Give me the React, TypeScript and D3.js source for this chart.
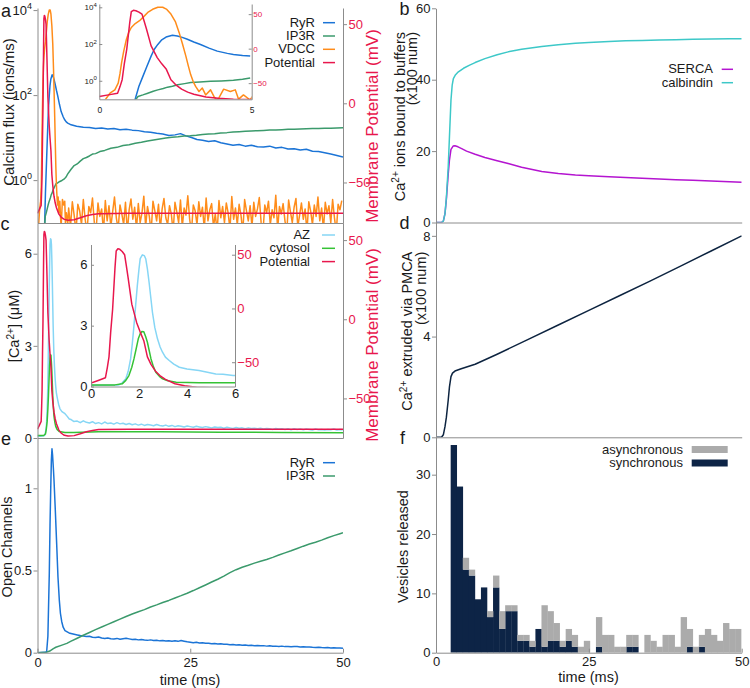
import { useEffect, useRef } from 'react'
import * as d3 from 'd3'

type Pt = [number, number]

const W = 750
const H = 688
const FONT = '"Liberation Sans", Arial, Helvetica, sans-serif'
const AXIS = '#8c8c8c'
const INK = '#1a1a1a'

const COLORS = {
  potential: '#e8174d',
  ryr: '#1b74d6',
  ip3r: '#3b9a6c',
  vdcc: '#ff8c1a',
  az: '#86d6f5',
  cytosol: '#35c235',
  serca: '#b415d0',
  calbindin: '#3dc8c8',
  pmca: '#0d2440',
  sync: '#0d2446',
  async: '#ababab'
}

// ---- panel a / c: membrane potential (mV) vs time (ms)
const potential: Pt[] = [
  [0, -69.5], [0.3, -67], [0.6, -64.5], [0.68, -55], [0.75, -45], [0.82, -22], [0.9, -1], [1.0, 38],
  [1.05, 53.5], [1.12, 55.5], [1.2, 55], [1.3, 53], [1.4, 50], [1.47, 40], [1.55, 28], [1.7, 4],
  [1.9, -13], [2.05, -22], [2.2, -30], [2.35, -45], [2.5, -52], [2.7, -58.7], [2.9, -63], [3.1, -66],
  [3.5, -70], [3.9, -72], [4.4, -73.3], [5, -73.8], [6, -73.5], [7, -72.3], [8, -71], [9, -70.2],
  [10, -69.7], [15, -69.5], [50, -69.5]
]

// ---- panel a: calcium flux (ions/ms)
const ryrFlux: Pt[] = [
  [1.16, 0.08], [1.3, 0.5], [1.43, 1.74], [1.56, 6], [1.7, 21.9], [1.8, 50], [1.92, 95], [2.05, 170],
  [2.19, 240], [2.4, 300], [2.56, 275], [2.72, 230], [2.89, 182], [3.1, 130], [3.32, 95], [3.6, 60],
  [3.87, 41], [4.2, 31], [4.4, 27], [4.7, 23.5], [4.95, 22], [5.5, 20], [6.4, 18.5], [7.5, 17.6],
  [8.5, 17.2], [9.5, 16.3], [10.5, 16.8], [11.5, 15.9], [12.5, 16.4], [13.5, 15.4], [14.5, 15.8],
  [15.5, 15.0], [16.5, 14.6], [17.5, 13.7], [18.5, 13.3], [19.5, 12.6], [20.5, 12.1], [21.5, 11.2],
  [22.5, 11.6], [23.4, 12.4], [24.3, 11.0], [25.2, 10.1], [26.1, 9.0], [27, 8.7], [28, 8.1], [29, 8.4],
  [30, 7.6], [31, 7.1], [32, 6.6], [33, 6.9], [34, 6.3], [35, 6.6], [36, 6.1], [37, 6.0], [38, 6.3],
  [39, 5.7], [40, 5.9], [41, 5.4], [42, 5.5], [43, 5.1], [44, 5.3], [45, 4.8], [46, 4.7], [47, 4.4],
  [48, 4.1], [49, 3.8], [50, 3.5]
]

const ip3rFlux: Pt[] = [
  [1.16, 0.08], [1.27, 0.14], [1.43, 0.17], [1.59, 0.21], [1.77, 0.27], [1.92, 0.32], [2.1, 0.38],
  [2.24, 0.45], [2.4, 0.5], [2.57, 0.6], [2.8, 0.7], [3.0, 0.81], [3.3, 0.86], [3.65, 0.93], [4.0, 0.98],
  [4.4, 1.07], [4.7, 1.2], [4.95, 1.4], [5.5, 1.8], [6, 2.2], [6.5, 2.4], [7, 2.8], [7.5, 3.2], [8, 3.4],
  [8.5, 3.7], [9, 4.1], [9.5, 4.2], [10.2, 4.7], [11, 5.0], [12, 5.6], [13, 5.9], [14, 6.5], [15, 6.8],
  [16, 7.4], [17, 7.8], [18, 8.3], [19, 8.8], [20, 9.3], [21, 9.8], [22, 10.2], [23, 10.5], [24, 10.9],
  [25, 11.1], [26, 11.4], [27, 11.8], [28, 12.1], [29, 12.4], [30, 12.9], [31, 13.1], [32, 13.6],
  [33, 13.8], [34, 14.1], [35, 14.4], [36, 14.6], [37, 14.8], [38, 15.1], [39, 15.2], [40, 15.4],
  [41, 15.7], [42, 15.7], [43, 15.9], [44, 16.2], [45, 16.3], [46, 16.4], [47, 16.7], [48, 16.7],
  [49, 16.9], [50, 17.1]
]

const vdccEarly: Pt[] = [
  [0, 0.05], [0.19, 0.09], [0.35, 0.21], [0.51, 0.32], [0.62, 0.74], [0.68, 2.5], [0.73, 9.3], [0.8, 40],
  [0.89, 182], [0.97, 450], [1.05, 794], [1.18, 1300], [1.32, 1860], [1.45, 3000], [1.59, 5250],
  [1.75, 7800], [1.92, 10000], [2.08, 10000], [2.2, 8000], [2.35, 4270], [2.5, 1600], [2.62, 417],
  [2.73, 100], [2.84, 22], [2.92, 6.5], [3.0, 2.1], [3.08, 0.9], [3.16, 0.49], [3.27, 0.26], [3.38, 0.4],
  [3.49, 0.17], [3.65, 0.32], [3.76, 0.14], [3.87, 0.08], [4.08, 0.35], [4.3, 0.26], [4.46, 0.32],
  [4.57, 0.1], [4.73, 0.17], [4.95, 0.09]
]
// noisy VDCC tail, sampled every 0.3 ms from 5.1 ms
const VDCC_T0 = 5.1
const VDCC_DT = 0.3
const vdccTail = [
  0.22, 0.08, 0.31, 0.15, 0.06, 0.27, 0.19, 0.09, 0.35, 0.12,
  0.06, 0.24, 0.17, 0.38, 0.1, 0.07, 0.29, 0.14, 0.21, 0.06,
  0.33, 0.11, 0.25, 0.08, 0.18, 0.4, 0.13, 0.07, 0.26, 0.16,
  0.09, 0.3, 0.06, 0.2, 0.36, 0.12, 0.23, 0.07, 0.28, 0.1,
  0.17, 0.42, 0.08, 0.24, 0.14, 0.06, 0.32, 0.19, 0.11, 0.27,
  0.07, 0.21, 0.37, 0.13, 0.09, 0.25, 0.16, 0.06, 0.3, 0.18,
  0.1, 0.34, 0.08, 0.22, 0.15, 0.43, 0.12, 0.06, 0.26, 0.19,
  0.09, 0.31, 0.14, 0.23, 0.07, 0.38, 0.11, 0.2, 0.28, 0.08,
  0.16, 0.06, 0.33, 0.13, 0.24, 0.1, 0.29, 0.17, 0.07, 0.41,
  0.12, 0.22, 0.09, 0.27, 0.15, 0.06, 0.35, 0.19, 0.11, 0.25,
  0.08, 0.3, 0.14, 0.21, 0.39, 0.1, 0.06, 0.26, 0.17, 0.32,
  0.09, 0.2, 0.13, 0.44, 0.07, 0.24, 0.16, 0.28, 0.11, 0.06,
  0.34, 0.18, 0.1, 0.23, 0.37, 0.08, 0.15, 0.29, 0.12, 0.21,
  0.06, 0.31, 0.19, 0.09, 0.26, 0.14, 0.4, 0.11, 0.22, 0.07,
  0.3, 0.16, 0.25, 0.1, 0.35, 0.13, 0.06, 0.27, 0.2, 0.33
]

// ---- panel c: [Ca2+] (uM)
const azEarly: Pt[] = [
  [0, 0.06], [0.5, 0.06], [1.0, 0.07], [1.16, 0.08], [1.3, 0.18], [1.45, 0.38], [1.55, 0.75], [1.65, 1.36],
  [1.72, 2.1], [1.79, 3.0], [1.86, 4.0], [1.93, 4.97], [2.0, 5.8], [2.05, 6.3], [2.14, 6.49], [2.22, 6.45],
  [2.28, 6.3], [2.35, 5.8], [2.42, 5.14], [2.49, 4.4], [2.56, 3.66], [2.66, 2.9], [2.77, 2.35], [2.88, 1.95],
  [2.98, 1.69], [3.1, 1.45], [3.26, 1.28], [3.45, 1.1], [3.68, 0.95], [4.0, 0.86], [4.5, 0.79], [4.8, 0.72],
  [5.2, 0.62], [5.5, 0.6], [5.92, 0.54]
]
const AZ_T0 = 6.5
const AZ_DT = 0.5
const azTail = [
  0.55, 0.5, 0.56, 0.51, 0.49, 0.53, 0.47, 0.5, 0.46, 0.52,
  0.47, 0.49, 0.45, 0.5, 0.46, 0.48, 0.44, 0.47, 0.43, 0.46,
  0.42, 0.45, 0.41, 0.44, 0.42, 0.4, 0.44, 0.41, 0.39, 0.42,
  0.38, 0.41, 0.37, 0.4, 0.38, 0.36, 0.39, 0.37, 0.35, 0.38,
  0.36, 0.34, 0.37, 0.35, 0.33, 0.36, 0.34, 0.35, 0.32, 0.35,
  0.33, 0.31, 0.34, 0.32, 0.33, 0.3, 0.33, 0.31, 0.32, 0.3,
  0.32, 0.29, 0.31, 0.3, 0.28, 0.31, 0.29, 0.3, 0.28, 0.3,
  0.27, 0.3, 0.28, 0.29, 0.27, 0.29, 0.28, 0.26, 0.29, 0.27,
  0.28, 0.26, 0.28, 0.27, 0.29, 0.26, 0.28, 0.27
]
const cytosolCa: Pt[] = [
  [0, 0.08], [1.0, 0.08], [1.3, 0.13], [1.45, 0.3], [1.58, 0.54], [1.7, 0.95], [1.79, 1.36], [1.88, 1.85],
  [1.97, 2.35], [2.05, 2.6], [2.12, 2.71], [2.2, 2.7], [2.28, 2.45], [2.35, 2.18], [2.42, 1.8], [2.5, 1.36],
  [2.6, 0.98], [2.7, 0.7], [2.85, 0.5], [2.98, 0.38], [3.2, 0.28], [3.55, 0.21], [4.5, 0.18], [5.9, 0.18],
  [10, 0.2], [20, 0.2], [30, 0.19], [40, 0.18], [50, 0.17]
]

// ---- panel e: open channels
const ryrOpenEarly: Pt[] = [
  [0, 0], [1.2, 0.002], [1.5, 0.006], [1.7, 0.1], [1.93, 0.48], [2.05, 0.78], [2.16, 0.99], [2.27, 1.17],
  [2.37, 1.24], [2.47, 1.2], [2.6, 1.12], [2.7, 1.05], [2.9, 0.88], [3.14, 0.66], [3.35, 0.46], [3.57, 0.32],
  [3.75, 0.24], [3.96, 0.19], [4.2, 0.155], [4.5, 0.134], [5.3, 0.118], [6, 0.112]
]
const RYR_T0 = 6.5
const RYR_DT = 0.5
const ryrOpenTail = [
  0.108, 0.104, 0.101, 0.098, 0.1, 0.094, 0.092, 0.095, 0.089, 0.087,
  0.09, 0.085, 0.084, 0.087, 0.082, 0.085, 0.088, 0.084, 0.08, 0.082,
  0.078, 0.08, 0.077, 0.075, 0.078, 0.074, 0.076, 0.072, 0.074, 0.071,
  0.073, 0.07, 0.072, 0.069, 0.074, 0.07, 0.066, 0.064, 0.061, 0.063,
  0.059, 0.06, 0.057, 0.058, 0.055, 0.056, 0.053, 0.054, 0.051, 0.052,
  0.049, 0.05, 0.047, 0.048, 0.046, 0.047, 0.044, 0.045, 0.043, 0.044,
  0.042, 0.043, 0.04, 0.042, 0.039, 0.04, 0.038, 0.04, 0.037, 0.038,
  0.036, 0.038, 0.037, 0.035, 0.036, 0.034, 0.035, 0.033, 0.032, 0.033,
  0.031, 0.03, 0.031, 0.029, 0.03, 0.028, 0.029, 0.027
]
const ip3rOpen: Pt[] = [
  [0, 0], [1.5, 0.003], [2, 0.01], [2.6, 0.025], [3, 0.033], [4, 0.046], [4.8, 0.057], [5.5, 0.07],
  [6.5, 0.088], [7.5, 0.106], [8.5, 0.123], [9.5, 0.14], [10.5, 0.156], [11.5, 0.172], [12.5, 0.188],
  [13.5, 0.204], [14.5, 0.22], [15.5, 0.235], [16.5, 0.249], [17.5, 0.262], [18.5, 0.278], [19.5, 0.291],
  [20.5, 0.305], [21.5, 0.318], [22.5, 0.333], [23.5, 0.347], [24.5, 0.362], [25.5, 0.378], [26.5, 0.395],
  [27.5, 0.412], [28.5, 0.43], [29.5, 0.447], [30.5, 0.466], [31.5, 0.487], [32.5, 0.505], [33.5, 0.52],
  [34.5, 0.532], [35.5, 0.545], [36.5, 0.556], [37.5, 0.567], [38.5, 0.58], [39.5, 0.594], [40.5, 0.607],
  [41.5, 0.62], [42.5, 0.634], [43.5, 0.648], [44.5, 0.661], [45.5, 0.672], [46.5, 0.685], [47.5, 0.699],
  [48.5, 0.712], [49.5, 0.724], [50, 0.73]
]

// ---- panel b: Ca2+ bound to buffers (x100)
const sercaBound: Pt[] = [
  [0, 0], [0.9, 0], [1.2, 0.4], [1.47, 2.5], [1.7, 6.5], [2.0, 13.5], [2.2, 17.5], [2.45, 20.5], [2.8, 21.4],
  [3.1, 21.5], [3.6, 21.2], [4.2, 20.7], [5, 20], [6.4, 19.1], [8, 18.2], [10, 17.3], [11.8, 16.5], [14, 15.5],
  [17.3, 14.3], [20, 13.7], [22.8, 13.3], [25, 13.1], [28.3, 12.8], [31, 12.6], [33.7, 12.4], [36.5, 12.2],
  [39.2, 12], [42, 11.8], [45, 11.6], [48, 11.4], [50, 11.3]
]
const calbindinBound: Pt[] = [
  [0, 0], [0.9, 0], [1.2, 0.4], [1.47, 2.5], [1.7, 7], [2.0, 15.6], [2.2, 24], [2.45, 34.3], [2.65, 38.5],
  [2.84, 40.3], [3.2, 41.4], [3.66, 42.2], [4.5, 43.2], [5.5, 44.1], [6.4, 44.8], [8, 45.9], [10, 47],
  [11.8, 47.8], [14, 48.5], [17.3, 49.3], [20, 49.8], [22.8, 50.2], [25, 50.4], [28.3, 50.7], [31, 50.9],
  [33.7, 51.0], [36.5, 51.1], [39.2, 51.2], [42, 51.3], [45, 51.4], [48, 51.5], [50, 51.5]
]

// ---- panel d: Ca2+ extruded via PMCA (x100)
const pmcaExtruded: Pt[] = [
  [0, 0], [0.9, 0], [1.2, 0.1], [1.47, 0.42], [1.7, 0.8], [2.0, 1.48], [2.2, 2.0], [2.45, 2.41], [2.7, 2.55],
  [3.1, 2.63], [4, 2.71], [5, 2.79], [6.4, 2.9], [10, 3.3], [15, 3.88], [20, 4.46], [25, 5.04], [30, 5.62],
  [35, 6.2], [40, 6.8], [45, 7.4], [50, 8.0]
]

// ---- panel f: vesicles released per bin
const BIN_START = 2.4
const BIN_WIDTH = 0.99
const syncCounts = [
  35, 28, 14, 13, 9, 11, 6, 11, 4, 7, 7, 2, 2, 1, 4, 1, 2, 2, 1, 2, 1, 0, 0, 0,
  1, 0, 0, 0, 0, 1, 1, 0, 0, 0, 0, 0, 0, 0, 0, 1, 0, 1, 0, 0, 0, 0, 0, 0
]
const asyncCounts = [
  0, 0, 2, 1, 0, 0, 1, 2, 3, 1, 1, 1, 1, 1, 0, 7, 5, 3, 1, 2, 2, 1, 2, 0,
  5, 3, 3, 1, 1, 2, 2, 0, 3, 2, 1, 3, 3, 1, 6, 3, 1, 2, 4, 3, 2, 5, 4, 4
]

// ticks
const fluxTicks = [1, 100, 10000]
const potentialTicks = [-50, 0, 50]
const caTicks = [0, 3, 6]
const insetCaXTicks = [0, 2, 4, 6]
const insetFluxXTicks = [0, 5]
const openTicks = [0, 0.5, 1]
const timeTicks = [0, 25, 50]
const boundTicks = [0, 20, 40, 60]
const pmcaTicks = [0, 4, 8]
const vesicleTicks = [0, 10, 20, 30]

const legendA = [['RyR', COLORS.ryr], ['IP3R', COLORS.ip3r], ['VDCC', COLORS.vdcc], ['Potential', COLORS.potential]]
const legendB = [['SERCA', COLORS.serca], ['calbindin', COLORS.calbindin]]
const legendC = [['AZ', COLORS.az], ['cytosol', COLORS.cytosol], ['Potential', COLORS.potential]]
const legendE = [['RyR', COLORS.ryr], ['IP3R', COLORS.ip3r]]
const legendF = [['asynchronous', COLORS.async], ['synchronous', COLORS.sync]]

const LEFT = { x0: 37.5, x1: 343 }
const RIGHT = { x0: 436, x1: 741.7 }

const fmt = d3.format('~g')

const withTail = (head: Pt[], tail: number[], t0: number, dt: number): Pt[] =>
  head.concat(tail.map((v, i) => [t0 + i * dt, v] as Pt))

export default function App() {
  const ref = useRef<SVGSVGElement | null>(null)

  useEffect(() => {
    if (!ref.current) return
    const svg = d3.select(ref.current)
    svg.selectAll('*').remove()
    const defs = svg.append('defs')
    let nClip = 0

    const clipRect = (x0: number, y0: number, x1: number, y1: number) => {
      const id = `clip-${nClip++}`
      defs.append('clipPath').attr('id', id)
        .append('rect').attr('x', x0).attr('y', y0).attr('width', x1 - x0).attr('height', y1 - y0)
      return `url(#${id})`
    }

    const plot = (data: Pt[], x: any, y: any, color: string, clip: string) => {
      const line = d3.line<Pt>().x((d) => x(d[0])).y((d) => y(d[1]))
      svg.append('path')
        .attr('d', line(data) as string)
        .attr('fill', 'none')
        .attr('stroke', color)
        .attr('stroke-width', 1.5)
        .attr('stroke-linejoin', 'round')
        .attr('clip-path', clip)
    }

    const styleAxis = (g: any, labelColor = INK, size = 13) => {
      g.attr('color', AXIS).attr('font-family', FONT).attr('font-size', size)
      g.selectAll('text').attr('fill', labelColor)
      g.selectAll('line, path').attr('stroke-width', 1)
    }

    const powLabels = (g: any, supSize: number, rise: number) => {
      g.selectAll('.tick text').each(function (this: SVGTextElement, d: any) {
        const t = d3.select(this)
        t.text('10')
        t.append('tspan').attr('dy', -rise).attr('font-size', supSize).text(String(Math.round(Math.log10(d))))
      })
    }

    const axis = (gen: any, tx: number, ty: number, labelColor = INK, size = 13) => {
      const g = svg.append('g').attr('transform', `translate(${tx},${ty})`).call(gen.tickFormat(fmt))
      styleAxis(g, labelColor, size)
      return g
    }

    type Seg = { t: string; sup?: boolean }
    const label = (x: number, y: number, segs: Seg[], size: number, opts: { rot?: boolean; anchor?: string; color?: string } = {}) => {
      const t = svg.append('text')
        .attr('transform', `translate(${x},${y})${opts.rot ? ' rotate(-90)' : ''}`)
        .attr('text-anchor', opts.anchor || 'middle')
        .attr('font-family', FONT)
        .attr('font-size', size)
        .attr('fill', opts.color || INK)
      const rise = size * 0.38
      let up = false
      segs.forEach((s) => {
        const span = t.append('tspan').text(s.t)
        if (s.sup) {
          span.attr('font-size', size * 0.7).attr('dy', -rise)
          up = true
        } else if (up) {
          span.attr('dy', rise)
          up = false
        }
      })
      return t
    }

    const legend = (items: string[][], xEnd: number, y0: number, step: number, sx0: number, sx1: number, box = false) => {
      items.forEach(([name, color], i) => {
        const y = y0 + i * step
        label(xEnd, y, [{ t: name }], 13, { anchor: 'end' })
        if (box) {
          svg.append('rect').attr('x', sx0).attr('y', y - 7.5).attr('width', sx1 - sx0).attr('height', 7).attr('fill', color)
        } else {
          svg.append('line').attr('x1', sx0).attr('x2', sx1).attr('y1', y - 4).attr('y2', y - 4)
            .attr('stroke', color).attr('stroke-width', 1.5)
        }
      })
    }

    const vdccFlux = withTail(vdccEarly, vdccTail, VDCC_T0, VDCC_DT)
    const azCa = withTail(azEarly, azTail, AZ_T0, AZ_DT)
    const ryrOpen = withTail(ryrOpenEarly, ryrOpenTail, RYR_T0, RYR_DT)

    // ===== panel a =====
    const xL = d3.scaleLinear().domain([0, 50]).range([LEFT.x0, LEFT.x1])
    const yFlux = d3.scaleLog().domain([0.098, 11200]).range([223, 8])
    const yPotA = d3.scaleLinear().domain([-75.6, 60.2]).range([223, 8])
    const clipA = clipRect(LEFT.x0, 8, LEFT.x1, 223)
    plot(ryrFlux, xL, yFlux, COLORS.ryr, clipA)
    plot(ip3rFlux, xL, yFlux, COLORS.ip3r, clipA)
    plot(vdccFlux, xL, yFlux, COLORS.vdcc, clipA)
    plot(potential, xL, yPotA, COLORS.potential, clipA)
    const aLeft = axis(d3.axisLeft(yFlux).tickValues(fluxTicks).tickSizeInner(4).tickSizeOuter(0).tickPadding(1.5), LEFT.x0, 0)
    powLabels(aLeft, 9, 6)
    axis(d3.axisRight(yPotA).tickValues(potentialTicks).tickSizeInner(4).tickSizeOuter(0).tickPadding(1.5), LEFT.x1, 0, COLORS.potential)
    axis(d3.axisBottom(xL).tickValues([]).tickSizeOuter(0), 0, 223)
    legend(legendA, 315, 26.7, 13.3, 323, 335)

    // inset a
    const xIa = d3.scaleLinear().domain([0, 5]).range([99.3, 251.7])
    const yIaFlux = d3.scaleLog().domain([0.098, 15100]).range([99.3, 4])
    const yIaPot = d3.scaleLinear().domain([-73.4, 64.7]).range([99.3, 4])
    const clipIa = clipRect(99.3, 4, 251.7, 99.3)
    const early = (d: Pt) => d[0] <= 5.3
    plot(ryrFlux.filter(early), xIa, yIaFlux, COLORS.ryr, clipIa)
    plot(ip3rFlux.filter(early), xIa, yIaFlux, COLORS.ip3r, clipIa)
    plot(vdccFlux.filter(early), xIa, yIaFlux, COLORS.vdcc, clipIa)
    plot(potential.filter((d) => d[0] <= 6), xIa, yIaPot, COLORS.potential, clipIa)
    const iaLeft = axis(d3.axisLeft(yIaFlux).tickValues(fluxTicks).tickSizeInner(-3).tickSizeOuter(0).tickPadding(2.5), 99.3, 0, INK, 8)
    powLabels(iaLeft, 6, 3.5)
    axis(d3.axisRight(yIaPot).tickValues(potentialTicks).tickSizeInner(-3).tickSizeOuter(0).tickPadding(1.5), 251.7, 0, COLORS.potential, 8)
    axis(d3.axisBottom(xIa).tickValues(insetFluxXTicks).tickSizeInner(0).tickSizeOuter(0).tickPadding(7.4), 0, 99.3, INK, 8.5)

    // ===== panel c =====
    const yCa = d3.scaleLinear().domain([0, 7]).range([438, 223])
    const yPotC = d3.scaleLinear().domain([-75, 60.8]).range([438, 223])
    const clipC = clipRect(LEFT.x0, 223, LEFT.x1, 438)
    plot(azCa, xL, yCa, COLORS.az, clipC)
    plot(cytosolCa, xL, yCa, COLORS.cytosol, clipC)
    plot(potential, xL, yPotC, COLORS.potential, clipC)
    axis(d3.axisLeft(yCa).tickValues(caTicks).tickSizeInner(4).tickSizeOuter(0).tickPadding(1.5), LEFT.x0, 0)
    axis(d3.axisRight(yPotC).tickValues(potentialTicks).tickSizeInner(4).tickSizeOuter(0).tickPadding(1.5), LEFT.x1, 0, COLORS.potential)
    axis(d3.axisBottom(xL).tickValues([]).tickSizeOuter(0), 0, 438)
    legend(legendC, 310, 239, 13.3, 322, 335)

    // inset c
    const xIc = d3.scaleLinear().domain([0, 6]).range([91, 235])
    const yIc = d3.scaleLinear().domain([0, 7]).range([386.5, 244.5])
    const yIcPot = d3.scaleLinear().domain([-72.6, 59.5]).range([386.5, 244.5])
    const clipIc = clipRect(91, 244.5, 235, 386.5)
    const upTo6 = (d: Pt) => d[0] <= 6.6
    plot(azCa.filter(upTo6), xIc, yIc, COLORS.az, clipIc)
    plot(cytosolCa.filter((d) => d[0] <= 10), xIc, yIc, COLORS.cytosol, clipIc)
    plot(potential.filter((d) => d[0] <= 7), xIc, yIcPot, COLORS.potential, clipIc)
    axis(d3.axisLeft(yIc).tickValues(caTicks).tickSizeInner(-3).tickSizeOuter(0).tickPadding(3.5), 91, 0)
    axis(d3.axisRight(yIcPot).tickValues(potentialTicks).tickSizeInner(-3).tickSizeOuter(0).tickPadding(2.3), 235, 0, COLORS.potential)
    axis(d3.axisBottom(xIc).tickValues(insetCaXTicks).tickSizeInner(0).tickSizeOuter(0).tickPadding(2.5), 0, 386.5)

    // ===== panel e =====
    const yOpen = d3.scaleLinear().domain([0, 1.306]).range([652.7, 438])
    const clipE = clipRect(LEFT.x0, 438, LEFT.x1, 652.7)
    plot(ryrOpen, xL, yOpen, COLORS.ryr, clipE)
    plot(ip3rOpen, xL, yOpen, COLORS.ip3r, clipE)
    axis(d3.axisLeft(yOpen).tickValues(openTicks).tickSizeInner(4).tickSizeOuter(0).tickPadding(1.5), LEFT.x0, 0)
    axis(d3.axisBottom(xL).tickValues(timeTicks).tickSizeInner(-4).tickSizeOuter(0).tickPadding(5), 0, 652.7)
    legend(legendE, 315, 466.7, 13.3, 323, 335)

    // ===== panel b =====
    const xR = d3.scaleLinear().domain([0, 50]).range([RIGHT.x0, RIGHT.x1])
    const yBound = d3.scaleLinear().domain([0, 60]).range([222.5, 8.3])
    const clipB = clipRect(RIGHT.x0, 8, RIGHT.x1, 222.5)
    plot(sercaBound, xR, yBound, COLORS.serca, clipB)
    plot(calbindinBound, xR, yBound, COLORS.calbindin, clipB)
    axis(d3.axisLeft(yBound).tickValues(boundTicks).tickSizeInner(4).tickSizeOuter(0).tickPadding(1.5), RIGHT.x0, 0)
    axis(d3.axisBottom(xR).tickValues([]).tickSizeOuter(0), 0, 222.5)
    legend(legendB, 713, 73.3, 13.4, 721.7, 733)

    // ===== panel d =====
    const yPmca = d3.scaleLinear().domain([0, 8.53]).range([437.3, 222.5])
    const clipD = clipRect(RIGHT.x0, 222.5, RIGHT.x1, 437.3)
    plot(pmcaExtruded, xR, yPmca, COLORS.pmca, clipD)
    axis(d3.axisLeft(yPmca).tickValues(pmcaTicks).tickSizeInner(4).tickSizeOuter(0).tickPadding(1.5), RIGHT.x0, 0)
    axis(d3.axisBottom(xR).tickValues([]).tickSizeOuter(0), 0, 437.3)

    // ===== panel f =====
    const yVes = d3.scaleLinear().domain([0, 36.3]).range([652.7, 437.3])
    const clipF = clipRect(RIGHT.x0, 437.3, RIGHT.x1, 652.7)
    const rows = syncCounts.map((s, i) => ({ i, sync: s, async: asyncCounts[i] }))
    const stacked = d3.stack<any>().keys(['sync', 'async'])(rows)
    const fill: Record<string, string> = { sync: COLORS.sync, async: COLORS.async }
    stacked.forEach((layer) => {
      svg.append('g').attr('clip-path', clipF)
        .selectAll('rect')
        .data(layer.filter((d) => d[1] > d[0]))
        .join('rect')
        .attr('x', (d) => xR(BIN_START + d.data.i * BIN_WIDTH))
        .attr('width', xR(BIN_WIDTH) - xR(0) + 0.3)
        .attr('y', (d) => yVes(d[1]))
        .attr('height', (d) => yVes(d[0]) - yVes(d[1]))
        .attr('fill', fill[layer.key])
    })
    axis(d3.axisLeft(yVes).tickValues(vesicleTicks).tickSizeInner(4).tickSizeOuter(0).tickPadding(1.5), RIGHT.x0, 0)
    axis(d3.axisBottom(xR).tickValues(timeTicks).tickSizeInner(-4).tickSizeOuter(0).tickPadding(4.2), 0, 652.7)
    legend(legendF, 683, 453.5, 13.5, 691.7, 727.7, true)

    // ===== axis titles =====
    label(13.5, 112, [{ t: 'Calcium flux (ions/ms)' }], 15, { rot: true })
    label(377.5, 126, [{ t: 'Membrane Potential (mV)' }], 17, { rot: true, color: COLORS.potential })
    label(19, 326, [{ t: '[Ca' }, { t: '2+', sup: true }, { t: '] (\u03bcM)' }], 14.5, { rot: true })
    label(377.5, 345, [{ t: 'Membrane Potential (mV)' }], 17, { rot: true, color: COLORS.potential })
    label(11.5, 547, [{ t: 'Open Channels' }], 14.5, { rot: true })
    label(190, 685, [{ t: 'time (ms)' }], 14.5)
    label(404.5, 32, [{ t: 'Ca' }, { t: '2+', sup: true }, { t: ' ions bound to buffers' }], 14.5, { rot: true, anchor: 'end' })
    label(417, 32, [{ t: '(x100 num)' }], 14.5, { rot: true, anchor: 'end' })
    label(412, 251.7, [{ t: 'Ca' }, { t: '2+', sup: true }, { t: ' extruded via PMCA' }], 14.5, { rot: true, anchor: 'end' })
    label(425.5, 251.7, [{ t: '(x100 num)' }], 14.5, { rot: true, anchor: 'end' })
    label(407.5, 546.5, [{ t: 'Vesicles released' }], 14.5, { rot: true })
    label(588.5, 682, [{ t: 'time (ms)' }], 14.5)

    // panel letters
    const letters: [string, number, number][] = [
      ['a', 1, 16.7], ['b', 399.5, 15], ['c', 0.5, 230], ['d', 399.5, 228.5], ['e', 1, 445], ['f', 400, 443.5]
    ]
    letters.forEach(([s, x, y]) => label(x, y, [{ t: s }], 18, { anchor: 'start' }))
  }, [])

  return (
    <svg
      ref={ref}
      width={W}
      height={H}
      viewBox={`0 0 ${W} ${H}`}
      style={{ position: 'absolute', left: 0, top: 0, background: '#fff' }}
    />
  )
}
